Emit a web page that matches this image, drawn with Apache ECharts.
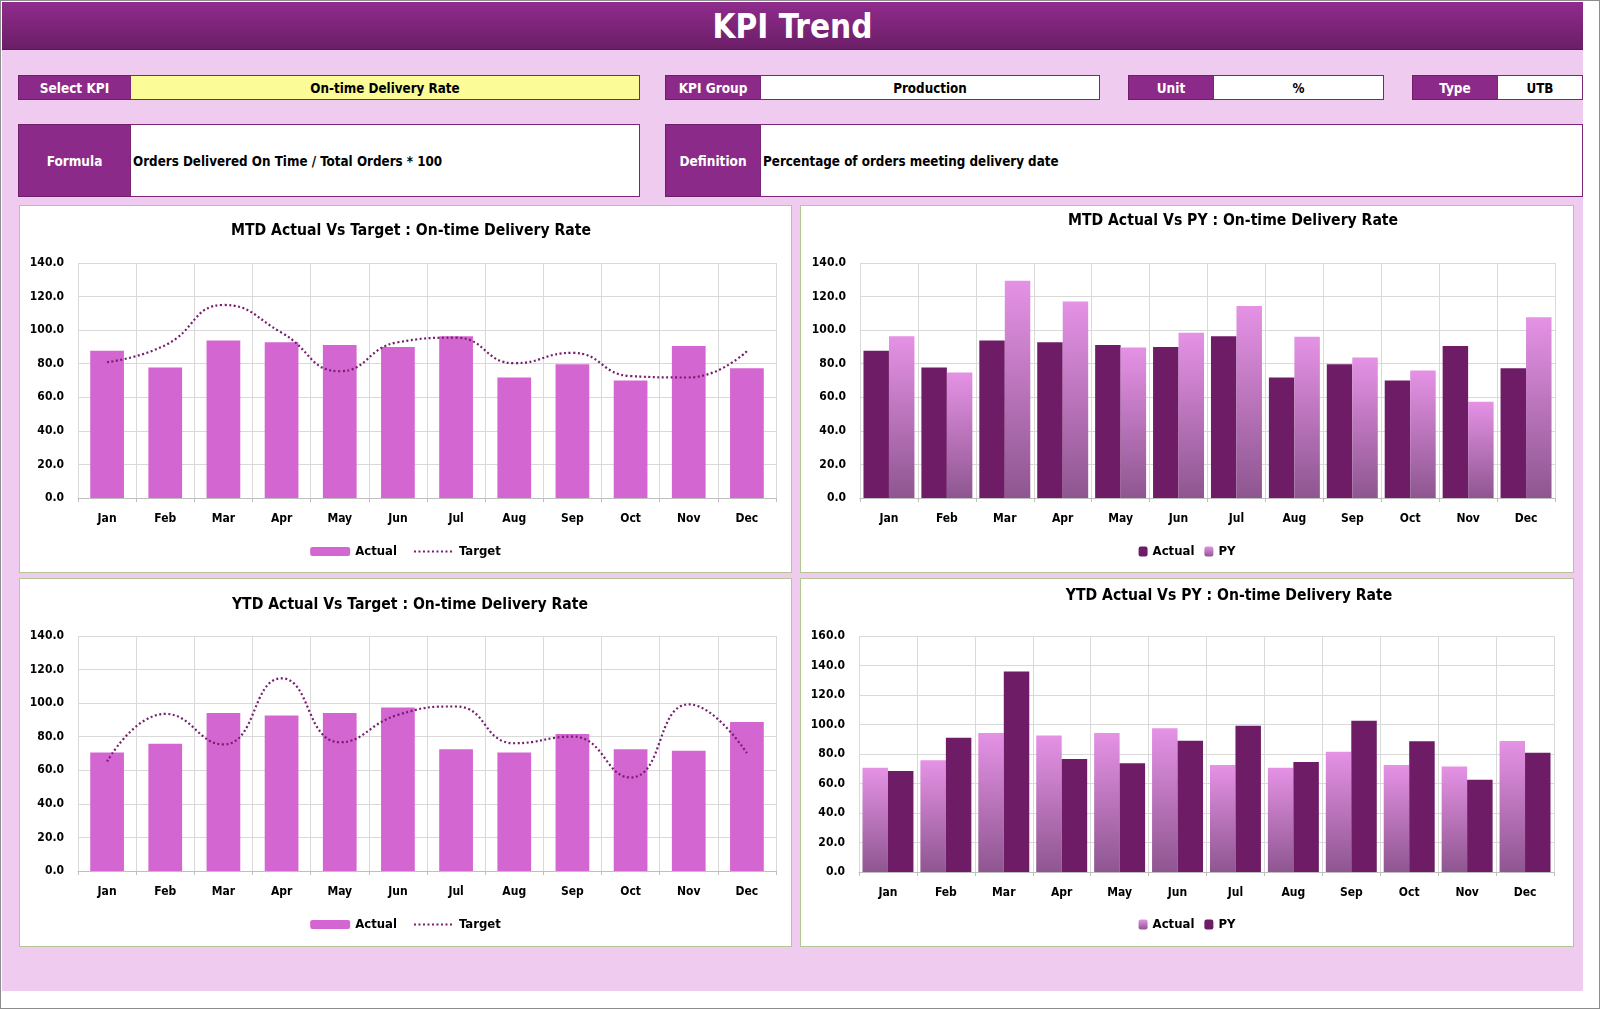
<!DOCTYPE html>
<html><head><meta charset="utf-8">
<script src="https://cdn.jsdelivr.net/npm/echarts@6/dist/echarts.min.js"></script>
<style>
html,body{margin:0;padding:0;width:1600px;height:1009px;overflow:hidden;background:#fff;}
*{box-sizing:border-box;}
.abs{position:absolute;}
#frame{left:0;top:0;width:1600px;height:1009px;border:1px solid #8c8c8c;}
#pink{left:2px;top:2px;width:1581px;height:989px;background:#EFCCEF;}
#band{left:2px;top:2px;width:1581px;height:48px;background:linear-gradient(#902C8D,#6B1E67);border-bottom:1px solid #5a1656;}
#title{left:2px;top:2px;width:1581px;height:48px;color:#fff;font:bold 33px 'Liberation Sans Narrow','DejaVu Sans Condensed',sans-serif;display:flex;align-items:center;justify-content:center;}
.lab{background:#8B2A89;color:#fff;border:1.5px solid #6E1F6C;font:bold 13.5px 'Liberation Sans Narrow','DejaVu Sans Condensed',sans-serif;display:flex;align-items:center;justify-content:center;}
.val{background:#fff;color:#000;border:1.5px solid #7B2577;font:bold 13.3px 'Liberation Sans Narrow','DejaVu Sans Condensed',sans-serif;display:flex;align-items:center;justify-content:center;padding-top:1px;}
.val.left{justify-content:flex-start;padding-left:2px;}
.panel{background:#fff;border:1.5px solid #B3C796;}
</style></head>
<body>
<div class="abs" id="frame"></div>
<div class="abs" id="pink"></div>
<div class="abs" id="band"></div>
<div class="abs" id="title">KPI Trend</div>

<div class="abs lab" style="left:18px;top:75px;width:113px;height:25px;">Select KPI</div>
<div class="abs val" style="left:130px;top:75px;width:510px;height:25px;background:#FBFB98;">On-time Delivery Rate</div>
<div class="abs lab" style="left:665px;top:75px;width:96px;height:25px;">KPI Group</div>
<div class="abs val" style="left:760px;top:75px;width:340px;height:25px;">Production</div>
<div class="abs lab" style="left:1128px;top:75px;width:86px;height:25px;">Unit</div>
<div class="abs val" style="left:1213px;top:75px;width:171px;height:25px;">%</div>
<div class="abs lab" style="left:1412px;top:75px;width:86px;height:25px;">Type</div>
<div class="abs val" style="left:1497px;top:75px;width:86px;height:25px;">UTB</div>

<div class="abs lab" style="left:18px;top:124px;width:113px;height:73px;">Formula</div>
<div class="abs val left" style="left:130px;top:124px;width:510px;height:73px;">Orders Delivered On Time / Total Orders * 100</div>
<div class="abs lab" style="left:665px;top:124px;width:96px;height:73px;">Definition</div>
<div class="abs val left" style="left:760px;top:124px;width:823px;height:73px;">Percentage of orders meeting delivery date</div>

<div class="abs panel" style="left:19px;top:205px;width:773px;height:368px;"></div>
<div class="abs panel" style="left:800px;top:205px;width:774px;height:368px;"></div>
<div class="abs panel" style="left:19px;top:578px;width:773px;height:369px;"></div>
<div class="abs panel" style="left:800px;top:578px;width:774px;height:369px;"></div>

<div class="abs" id="c1" style="left:19px;top:205px;width:773px;height:368px;"></div>
<div class="abs" id="c2" style="left:800px;top:205px;width:774px;height:368px;"></div>
<div class="abs" id="c3" style="left:19px;top:578px;width:773px;height:369px;"></div>
<div class="abs" id="c4" style="left:800px;top:578px;width:774px;height:369px;"></div>

<script>
const months = ['Jan','Feb','Mar','Apr','May','Jun','Jul','Aug','Sep','Oct','Nov','Dec'];
const mtdActual = [87.7, 77.7, 93.8, 92.8, 91.2, 90.0, 96.4, 71.8, 79.7, 70.0, 90.5, 77.3];
const mtdTarget = [80.9, 91.0, 115.0, 98.5, 75.5, 92.8, 95.5, 80.3, 86.5, 72.6, 71.8, 87.4];
const mtdPY     = [96.4, 74.8, 129.5, 117.0, 89.6, 98.4, 114.4, 96.0, 83.7, 75.9, 57.3, 107.7];
const ytdActual = [70.6, 75.8, 94.2, 92.6, 94.2, 97.4, 72.6, 70.6, 81.6, 72.6, 71.6, 88.8];
const ytdTarget = [65.2, 93.6, 75.4, 114.8, 76.7, 93.0, 98.0, 76.1, 80.1, 55.7, 99.3, 70.2];
const ytdPY     = [68.5, 91.1, 136.0, 76.6, 73.7, 89.0, 99.2, 74.6, 102.6, 88.6, 62.6, 80.9];
const axisMax140 = 140, axisMax160 = 160, axisStep = 20;

const TXT = "'Liberation Sans Narrow','DejaVu Sans Condensed',sans-serif";
const NUM = "'DejaVu Sans Condensed','Liberation Sans Narrow',sans-serif";
const BAR_PINK = '#D466D1';
const DARK = '#6E1C66';
const LINE = '#761D6E';
const pyGrad = () => new echarts.graphic.LinearGradient(0,0,0,1,[{offset:0,color:'#E592E5'},{offset:1,color:'#8E5690'}]);

function base(title, titleLeft, titleTop, grid, max, legendTop, legendData, legendItem) {
  return {
    animation:false,
    textStyle:{fontFamily:TXT},
    title:{text:title, left:titleLeft, top:titleTop, textAlign:'center',
      textStyle:{fontFamily:TXT,fontWeight:'bold',fontSize:15.6,color:'#000'}},
    grid:Object.assign({containLabel:false}, grid),
    legend:{data:legendData, left:'center', top:legendTop, itemWidth:legendItem[0], itemHeight:legendItem[1], itemGap:16,
      textStyle:{fontFamily:TXT,fontWeight:'bold',fontSize:13,color:'#000'}},
    xAxis:{type:'category', data:months,
      axisLine:{lineStyle:{color:'#BFBFBF'}},
      axisTick:{show:true,length:4,lineStyle:{color:'#BFBFBF'}},
      splitLine:{show:true,lineStyle:{color:'#D9D9D9'}},
      axisLabel:{fontFamily:NUM,fontWeight:'bold',fontSize:12,color:'#000',margin:15}},
    yAxis:{type:'value', min:0, max:max, interval:axisStep,
      axisLine:{show:false}, axisTick:{show:false},
      splitLine:{lineStyle:{color:'#D9D9D9'}},
      axisLabel:{fontFamily:NUM,fontWeight:'bold',fontSize:12,color:'#000',margin:14,formatter:v=>v.toFixed(1)}},
  };
}

function targetChart(el, title, titleLeft, titleTop, grid, actual, target, legendTop) {
  const o = base(title, titleLeft, titleTop, grid, axisMax140, legendTop,
    ['Actual', {name:'Target', itemStyle:{opacity:0}}], [40,9]);
  o.series = [
    {name:'Actual', type:'bar', data:actual, barWidth:'58%', itemStyle:{color:BAR_PINK}},
    {name:'Target', type:'line', data:target, smooth:0.5, symbol:'none',
      lineStyle:{color:LINE,width:2.2,type:[2,2.5]}, itemStyle:{color:LINE}}
  ];
  echarts.init(document.getElementById(el)).setOption(o);
}

function pyChart(el, title, titleLeft, titleTop, grid, max, actual, py, actualDark, legendTop) {
  const o = base(title, titleLeft, titleTop, grid, max, legendTop, ['Actual','PY'], [9,10]);
  o.legend.itemGap = 10;
  o.series = [
    {name:'Actual', type:'bar', data:actual, barGap:'0%', barCategoryGap:'12%',
      itemStyle:{color: actualDark ? DARK : pyGrad()}},
    {name:'PY', type:'bar', data:py, barGap:'0%', barCategoryGap:'12%',
      itemStyle:{color: actualDark ? pyGrad() : DARK}}
  ];
  echarts.init(document.getElementById(el)).setOption(o);
}

targetChart('c1','MTD Actual Vs Target : On-time Delivery Rate', 387, 13,
  {left:59,right:16,top:58,bottom:75}, mtdActual, mtdTarget, 335);
pyChart('c2','MTD Actual Vs PY : On-time Delivery Rate', 428, 3,
  {left:60,right:19,top:58,bottom:75}, axisMax140, mtdActual, mtdPY, true, 335);
targetChart('c3','YTD Actual Vs Target : On-time Delivery Rate', 386, 14,
  {left:59,right:16,top:58,bottom:76}, ytdActual, ytdTarget, 335);
pyChart('c4','YTD Actual Vs PY : On-time Delivery Rate', 424, 5,
  {left:59,right:20,top:58,bottom:75}, axisMax160, ytdActual, ytdPY, false, 335);
</script>
</body></html>
